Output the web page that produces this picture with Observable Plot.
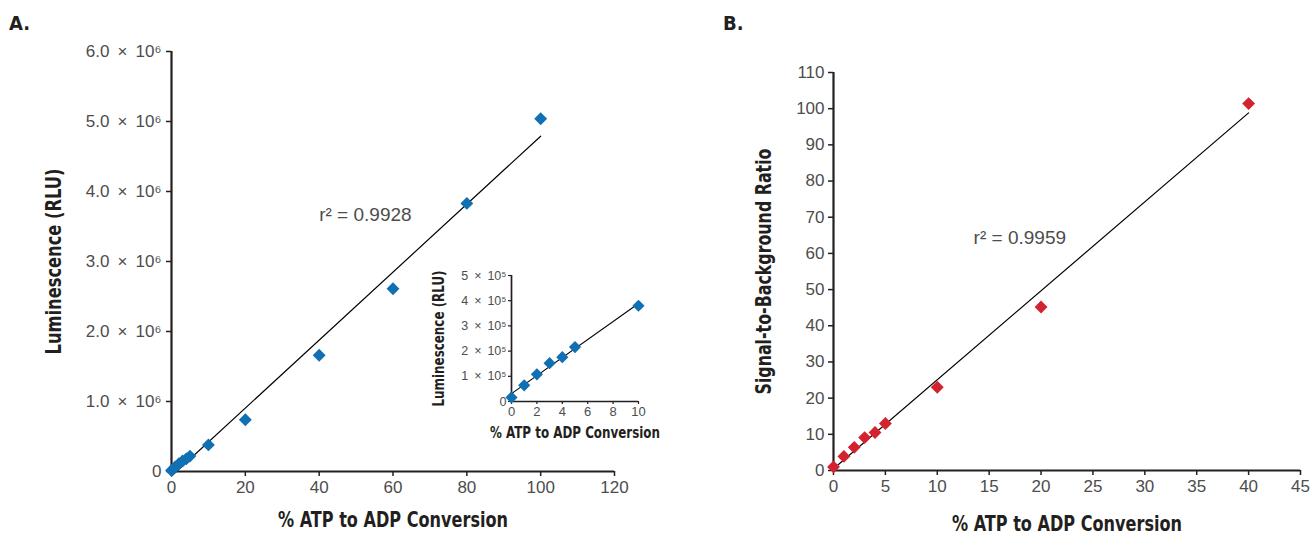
<!DOCTYPE html>
<html><head><meta charset="utf-8">
<script src="https://cdn.jsdelivr.net/npm/d3@7"></script>
<script src="https://cdn.jsdelivr.net/npm/@observablehq/plot@0.6"></script>
<style>
body{margin:0;background:#fff;}
#wrap{position:relative;width:1314px;height:535px;overflow:hidden;background:#fff;}
#wrap svg{position:absolute;}
.panel{position:absolute;font-family:"Liberation Sans Narrow","DejaVu Sans Condensed","Arial Narrow",sans-serif;font-weight:bold;font-size:20px;line-height:20px;color:#231f20;}
</style></head><body>
<div id="wrap">
<div class="panel" style="left:9px;top:13px">A.</div>
<div class="panel" style="left:723px;top:13px">B.</div>
</div>
<script>
// ---- data ----
const conversionA = [0, 1, 2, 3, 4, 5, 10, 20, 40, 60, 80, 100];
const luminescenceA = [15000, 65000, 110000, 150000, 180000, 220000, 380000, 740000, 1660000, 2610000, 3830000, 5040000];
const conversionInset = [0, 1, 2, 3, 4, 5, 10];
const luminescenceInset = [16000, 64000, 108000, 152000, 176000, 216000, 380000];
const conversionB = [0, 1, 2, 3, 4, 5, 10, 20, 40];
const ratioB = [1, 3.9, 6.4, 9.1, 10.5, 13, 23, 45.2, 101.4];

const ticksAx = [0, 20, 40, 60, 80, 100, 120];
const ticksAy = [0, 1e6, 2e6, 3e6, 4e6, 5e6, 6e6];
const ticksInsetX = [0, 2, 4, 6, 8, 10];
const ticksInsetY = [0, 1e5, 2e5, 3e5, 4e5, 5e5];
const ticksBx = [0, 5, 10, 15, 20, 25, 30, 35, 40, 45];
const ticksBy = [0, 10, 20, 30, 40, 50, 60, 70, 80, 90, 100, 110];

const xTitle = "% ATP to ADP Conversion";
const yTitleA = "Luminescence (RLU)";
const yTitleB = "Signal-to-Background Ratio";
const r2A = [{label: "r² = 0.9928", x: 40, y: 3.67e6}];
const r2B = [{label: "r² = 0.9959", x: 13.5, y: 64.3}];

// ---- styles ----
const ink = "#231f20", tickInk = "#4d4d4d";
const blue = "#1170b3", red = "#d2232e";
const titleFont = `"Liberation Sans Narrow","DejaVu Sans Condensed","Arial Narrow",sans-serif`;
const tickFont = `"Liberation Sans",Arial,Helvetica,sans-serif`;

const dataA = conversionA.map((x, i) => ({x, y: luminescenceA[i]}));
const dataInset = conversionInset.map((x, i) => ({x, y: luminescenceInset[i]}));
const dataB = conversionB.map((x, i) => ({x, y: ratioB[i]}));

const gap = "\u00a0\u2009";
const fmtA = d => d === 0 ? "0" : `${(d / 1e6).toFixed(1)}${gap}×${gap}10⁶`;
const fmtInset = d => d === 0 ? "0" : `${d / 1e5}${gap}×${gap}10⁵`;

function titleMarks(yTitle, dxY, dyX, size) {
  return [
    Plot.text([xTitle], {frameAnchor: "bottom", dy: dyX, text: d => d, textAnchor: "middle", lineAnchor: "middle", fontSize: size, fontWeight: "bold", fontFamily: titleFont, fill: ink}),
    Plot.text([yTitle], {frameAnchor: "left", dx: dxY, rotate: -90, text: d => d, textAnchor: "middle", lineAnchor: "middle", fontSize: size + 1, fontWeight: "bold", fontFamily: titleFont, fill: ink})
  ];
}

// condense bold titles to the reference's narrow face
function fitText(svg, str, len) {
  for (const t of svg.querySelectorAll("text")) {
    if (t.textContent === str) {
      t.setAttribute("textLength", len);
      t.setAttribute("lengthAdjust", "spacingAndGlyphs");
    }
  }
}

const plotA = Plot.plot({
  width: 660, height: 535,
  marginLeft: 171, marginTop: 51, marginBottom: 64, marginRight: 46,
  x: {domain: [0, 120]},
  y: {domain: [0, 6e6]},
  style: {fontFamily: tickFont, background: "transparent", overflow: "visible"},
  marks: [
    Plot.axisX({ticks: ticksAx, tickSize: 5, tickPadding: 4, fontSize: 17, fill: tickInk, stroke: ink, strokeWidth: 1.5, label: null}),
    Plot.axisY({ticks: ticksAy, tickSize: 5, tickPadding: 5, fontSize: 17, fill: tickInk, stroke: ink, strokeWidth: 1.5, tickFormat: fmtA, label: null}),
    Plot.ruleX([0], {stroke: ink, strokeWidth: 2.2}),
    Plot.ruleY([0], {stroke: ink, strokeWidth: 2.2}),
    Plot.linearRegressionY(dataA, {x: "x", y: "y", ci: 0, stroke: "#000", strokeWidth: 1.2}),
    Plot.dot(dataA, {x: "x", y: "y", symbol: "diamond2", r: 5.8, fill: blue, stroke: "none"}),
    Plot.text(r2A, {x: "x", y: "y", text: "label", textAnchor: "start", fontSize: 19, fill: "#4d4d4d"}),
    ...titleMarks(yTitleA, -118, 49, 21)
  ]
});
plotA.style.left = "0px"; plotA.style.top = "0px";
fitText(plotA, xTitle, 230);
fitText(plotA, yTitleA, 186);

const plotInset = Plot.plot({
  width: 250, height: 190,
  marginLeft: 91, marginTop: 20, marginBottom: 44, marginRight: 32,
  x: {domain: [0, 10]},
  y: {domain: [0, 5e5]},
  style: {fontFamily: tickFont, background: "transparent", overflow: "visible"},
  marks: [
    Plot.axisX({ticks: ticksInsetX, tickSize: 3, tickPadding: 2, fontSize: 13, fill: tickInk, stroke: ink, strokeWidth: 1.2, label: null}),
    Plot.axisY({ticks: ticksInsetY, tickSize: 3, tickPadding: 2, fontSize: 12.5, fill: tickInk, stroke: ink, strokeWidth: 1.2, tickFormat: fmtInset, label: null}),
    Plot.ruleX([0], {stroke: ink, strokeWidth: 1.7}),
    Plot.ruleY([0], {stroke: ink, strokeWidth: 1.7}),
    Plot.linearRegressionY(dataInset, {x: "x", y: "y", ci: 0, stroke: "#000", strokeWidth: 1.1}),
    Plot.dot(dataInset, {x: "x", y: "y", symbol: "diamond2", r: 5.5, fill: blue, stroke: "none"}),
    ...titleMarks(yTitleA, -73, 32, 15)
  ]
});
plotInset.style.left = "420px"; plotInset.style.top = "255px";
fitText(plotInset, xTitle, 170);
fitText(plotInset, yTitleA, 136);

const plotB = Plot.plot({
  width: 654, height: 535,
  marginLeft: 173, marginTop: 72, marginBottom: 65, marginRight: 14,
  x: {domain: [0, 45]},
  y: {domain: [0, 110]},
  style: {fontFamily: tickFont, background: "transparent", overflow: "visible"},
  marks: [
    Plot.axisX({ticks: ticksBx, tickSize: 5, tickPadding: 4, fontSize: 17, fill: tickInk, stroke: ink, strokeWidth: 1.5, label: null}),
    Plot.axisY({ticks: ticksBy, tickSize: 5, tickPadding: 4, fontSize: 17, fill: tickInk, stroke: ink, strokeWidth: 1.5, label: null}),
    Plot.ruleX([0], {stroke: ink, strokeWidth: 2.2}),
    Plot.ruleY([0], {stroke: ink, strokeWidth: 2.2}),
    Plot.linearRegressionY(dataB, {x: "x", y: "y", ci: 0, stroke: "#000", strokeWidth: 1.2}),
    Plot.dot(dataB, {x: "x", y: "y", symbol: "diamond2", r: 5.8, fill: red, stroke: "none"}),
    Plot.text(r2B, {x: "x", y: "y", text: "label", textAnchor: "start", fontSize: 19, fill: "#4d4d4d"}),
    ...titleMarks(yTitleB, -70, 54, 21)
  ]
});
plotB.style.left = "660px"; plotB.style.top = "0px";
fitText(plotB, xTitle, 230);
fitText(plotB, yTitleB, 246);

const wrap = document.getElementById("wrap");
wrap.appendChild(plotA);
wrap.appendChild(plotInset);
wrap.appendChild(plotB);
</script>
</body></html>
